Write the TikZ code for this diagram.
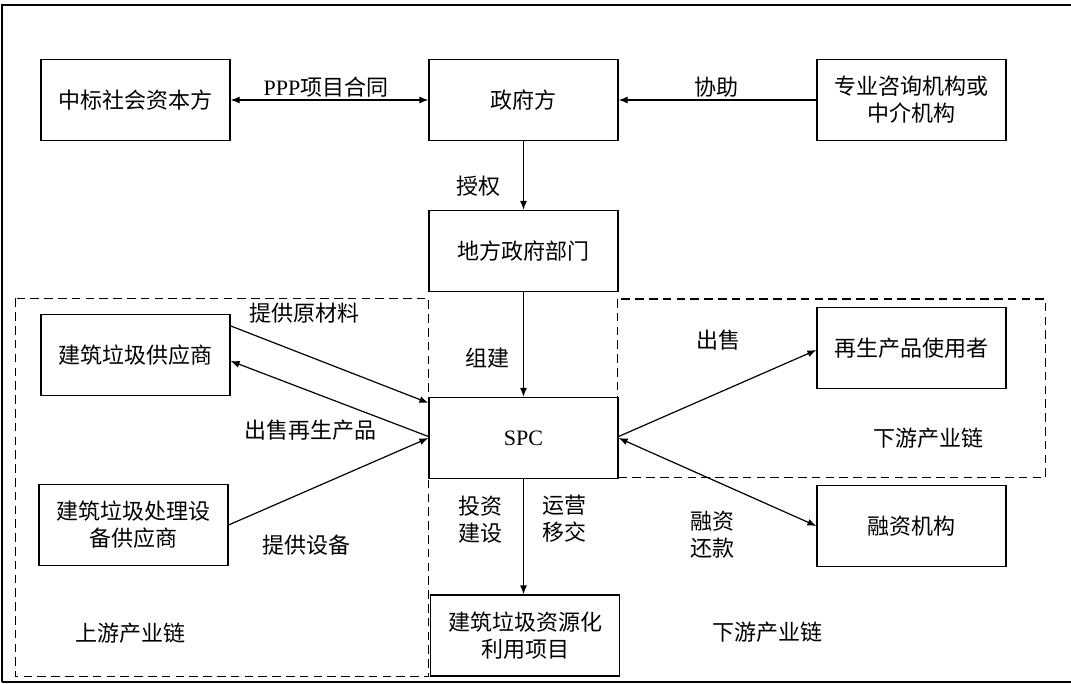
\documentclass[tikz,border=0pt]{standalone}
\usepackage{fontspec}
\setmainfont{Noto Sans CJK SC}
\newfontfamily\lat{Liberation Serif}
\usetikzlibrary{arrows.meta,calc}
\begin{document}
\begin{tikzpicture}[x=0.5pt,y=-0.5pt,
  box/.style={draw, line width=0.6pt, minimum width=94.5pt, minimum height=40.5pt, inner sep=0pt, align=center, font=\fontsize{11pt}{13.5pt}\selectfont},
  lbl/.style={inner sep=0pt, align=center, font=\fontsize{11pt}{13.5pt}\selectfont},
  region/.style={draw, line width=0.6pt, dash pattern=on 4.3pt off 2.6pt},
  arr/.style={line width=0.6pt, -{Latex[length=4.5pt,width=3.5pt]}},
  darr/.style={line width=0.6pt, {Latex[length=4.5pt,width=3.5pt]}-{Latex[length=4.5pt,width=3.5pt]}}
]
\useasboundingbox (0,0) rectangle (1071,684);
\fill[white] (0,0) rectangle (1071,684);
% outer frame
\draw[line width=1pt] (1.5,682) -- (1.5,5.5) -- (1080,5.5);
\draw[line width=1pt] (1.5,682) -- (1080,682);

% dashed regions
\draw[region] (15.5,298.5) rectangle (428.7,676.7);
\draw[region] (617.8,299) rectangle (1045.5,477.7);

% boxes
\node[box] (A) at (135.5,100) {中标社会资本方};
\node[box] (G) at (523.5,100) {政府方};
\node[box] (C) at (911.5,100) {专业咨询机构或\\中介机构};
\node[box] (L) at (523.5,251) {地方政府部门};
\node[box] (S) at (523.5,438) {\lat SPC};
\node[box] (P) at (525,635.5) {建筑垃圾资源化\\利用项目};
\node[box] (S1) at (135.5,355) {建筑垃圾供应商};
\node[box] (S2) at (133.5,525) {建筑垃圾处理设\\备供应商};
\node[box] (U) at (911.5,348) {再生产品使用者};
\node[box] (F) at (911.5,526) {融资机构};

% connectors
\draw[darr] (A.east) -- (G.west);
\draw[arr] (C.west) -- (G.east);
\draw[arr] (G.south) -- (L.north);
\draw[arr] (L.south) -- (S.north);
\draw[arr] (S.south) -- (S.south |- P.north);
\draw[arr] ($(S1.north east)+(0,12)$) -- ($(S.north west)+(0,6)$);
\draw[arr] ($(S.west)+(0,-1.5)$) -- ($(S1.east)+(0,6)$);
\draw[arr] (S2.east) -- (S.west);
\draw[arr] ($(S.east)+(0,-1.5)$) -- ($(U.west)+(0,2)$);
\draw[darr] (S.east) -- (F.west);

% labels
\node[lbl] (l1) at (326,87) {{\lat PPP}项目合同};
\node[lbl] (l2) at (716,87) {协助};
\node[lbl] (l3) at (478.6,186) {授权};
\node[lbl] (l4) at (487,358) {组建};
\node[lbl] (l5) at (304.8,313.3) {提供原材料};
\node[lbl] (l6) at (310,430) {出售再生产品};
\node[lbl] (l7) at (306.5,545) {提供设备};
\node[lbl] (l8) at (718.7,340) {出售};
\node[lbl] (l9) at (928.4,438.3) {下游产业链};
\node[lbl] (l10) at (480.4,520) {投资\\建设};
\node[lbl] (l11) at (564.4,518.3) {运营\\移交};
\node[lbl] (l12) at (712.5,535) {融资\\还款};
\node[lbl] (l13) at (130.9,633.3) {上游产业链};
\node[lbl] (l14) at (767.6,631.7) {下游产业链};
\end{tikzpicture}
\end{document}
